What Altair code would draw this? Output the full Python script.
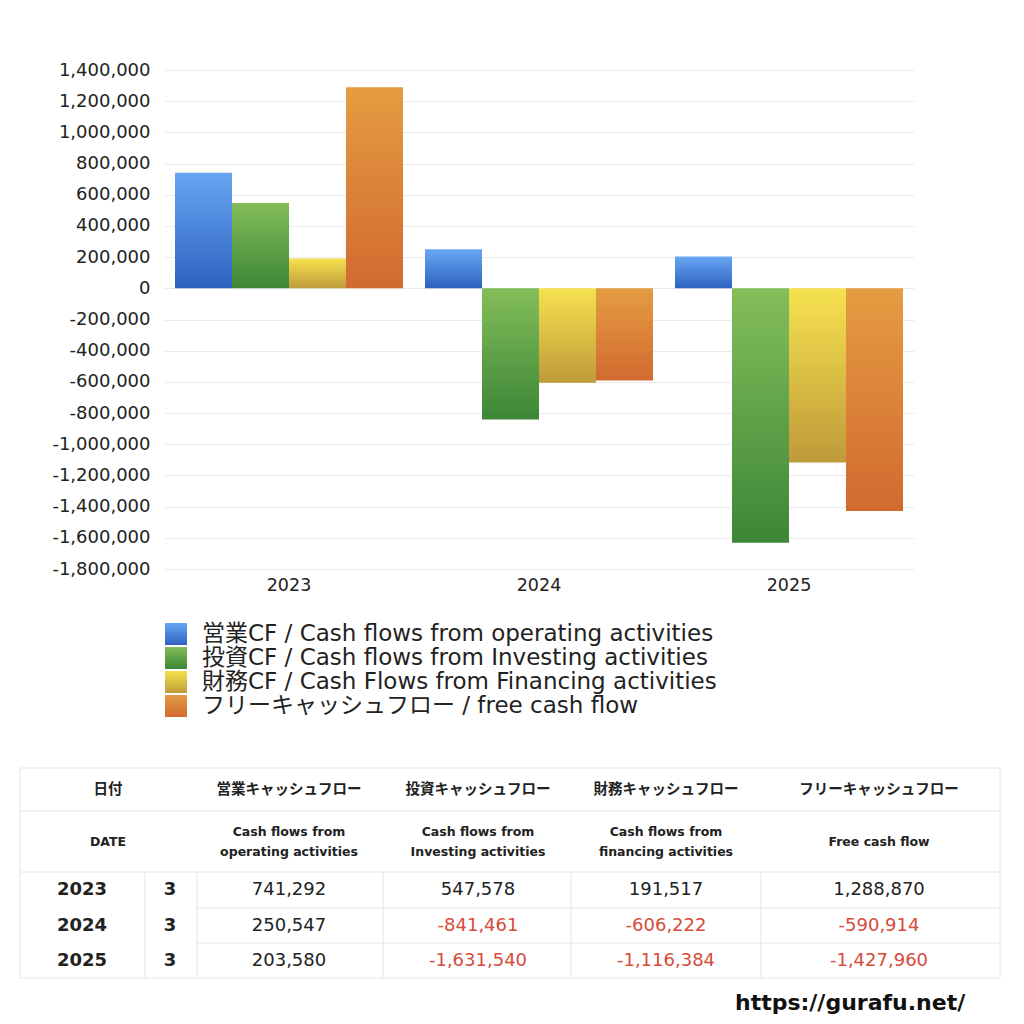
import altair as alt
import pandas as pd

# ---------------- data ----------------
YEARS = ["2023", "2024", "2025"]
MONTHS = ["3", "3", "3"]
KEYS = ["op", "inv", "fin", "free"]
SERIES_LABELS = [
    "営業CF / Cash flows from operating activities",
    "投資CF / Cash flows from Investing activities",
    "財務CF / Cash Flows from Financing activities",
    "フリーキャッシュフロー / free cash flow",
]
OPERATING = [741292, 250547, 203580]
INVESTING = [547578, -841461, -1631540]
FINANCING = [191517, -606222, -1116384]
FREE = [1288870, -590914, -1427960]
HEAD_JA = ["営業キャッシュフロー", "投資キャッシュフロー", "財務キャッシュフロー", "フリーキャッシュフロー"]
HEAD_EN = [
    ["Cash flows from", "operating activities"],
    ["Cash flows from", "Investing activities"],
    ["Cash flows from", "financing activities"],
    ["Free cash flow"],
]
DATE_JA = "日付"
DATE_EN = "DATE"
URL = "https://gurafu.net/"
Y_TICKS = list(range(-1800000, 1400001, 200000))

# ---------------- style / layout ----------------
FONT = "DejaVu Sans, Noto Sans CJK JP"
GRADS = [
    ("#68a6f2", "#2d62c0"),
    ("#84be5a", "#3d8637"),
    ("#f6e24f", "#bf9a3a"),
    ("#e59c41", "#d26a30"),
]
OX, OY = 164, 70          # page position of plot origin
W, H = 750, 499
RED = "#d64b3a"
INK = "#222222"
LINE = "#e4e4e4"

COL_CENTERS = [289, 478, 666, 879]
YEAR_X, MONTH_X, DATE_X = 82, 170, 108
ROW_Y = [890, 926, 961]
LEG_Y = [634, 658, 682, 706]


def grad(i):
    top, bot = GRADS[i]
    return alt.Gradient(
        gradient="linear",
        stops=[alt.GradientStop(color=top, offset=0), alt.GradientStop(color=bot, offset=1)],
        x1=0, x2=0, y1=0, y2=1,
    )


def gx(x):
    return x - OX


def gy(y):
    return y - OY


series_values = [OPERATING, INVESTING, FINANCING, FREE]
bars_df = pd.DataFrame(
    [{"year": YEARS[j], "key": KEYS[i], "value": series_values[i][j]}
     for i in range(4) for j in range(3)]
)

xscale = alt.Scale(domain=YEARS, paddingInner=0.088, paddingOuter=0.044)
yscale = alt.Scale(domain=[-1800000, 1400000], nice=False, zero=False)
offscale = alt.Scale(domain=KEYS, paddingInner=0, paddingOuter=0)
xaxis = alt.Axis(title=None, labelAngle=0, labelFontSize=17.5, labelColor=INK, ticks=False,
                 domain=False, labelPadding=7, grid=False, labelFont=FONT)
yaxis = alt.Axis(title=None, values=Y_TICKS,
                 labelExpr="replace(format(datum.value, ',d'), '\u2212', '-')",
                 labelFontSize=18, labelColor=INK,
                 ticks=False, domain=False, labelPadding=14, gridColor="#ebebeb", labelFont=FONT)

bar_layers = []
for i, k in enumerate(KEYS):
    bar_layers.append(
        alt.Chart(bars_df)
        .transform_filter(alt.datum.key == k)
        .mark_bar(color=grad(i))
        .encode(
            x=alt.X("year:N", scale=xscale, axis=xaxis),
            xOffset=alt.XOffset("key:N", scale=offscale),
            y=alt.Y("value:Q", scale=yscale, axis=yaxis),
        )
    )
bars = alt.layer(*bar_layers)

# ---------------- legend ----------------
leg_df = pd.DataFrame({"label": SERIES_LABELS, "px": [gx(202)] * 4, "py": [gy(v) for v in LEG_Y]})
legend_text = alt.Chart(leg_df).mark_text(align="left", baseline="middle", fontSize=23,
                                          color=INK, font=FONT).encode(
    x=alt.X("px:Q", scale=None, axis=None),
    y=alt.Y("py:Q", scale=None, axis=None),
    text="label:N",
)
swatches = []
one = pd.DataFrame({"k": [0]})
for i in range(4):
    swatches.append(
        alt.Chart(one).mark_rect(color=grad(i)).encode(
            x=alt.value(gx(165)), x2=alt.value(gx(187)),
            y=alt.value(gy(LEG_Y[i] - 11)), y2=alt.value(gy(LEG_Y[i] + 11)),
        )
    )

# ---------------- table ----------------
def fmt(v):
    return f"{v:,}"

lines = []
def hline(y, x1, x2):
    lines.append({"x": gx(x1), "x2": gx(x2), "y": gy(y), "y2": gy(y)})
def vline(x, y1, y2):
    lines.append({"x": gx(x), "x2": gx(x), "y": gy(y1), "y2": gy(y2)})

for y in [768, 811, 872, 978]:
    hline(y, 20, 1000)
for y in [908, 943]:
    hline(y, 197, 1000)
for x in [145, 197, 383, 571, 761]:
    vline(x, 872, 978)
vline(20, 768, 978)
vline(1000, 768, 978)
lines_df = pd.DataFrame(lines)
table_lines = alt.Chart(lines_df).mark_rule(color=LINE, strokeWidth=1).encode(
    x=alt.X("x:Q", scale=None, axis=None), x2="x2:Q",
    y=alt.Y("y:Q", scale=None, axis=None), y2="y2:Q",
)

bold_cells = [{"t": DATE_JA, "px": gx(DATE_X), "py": gy(790), "s": 14.5, "c": INK}]
for j, h in enumerate(HEAD_JA):
    bold_cells.append({"t": h, "px": gx(COL_CENTERS[j]), "py": gy(790), "s": 14.5, "c": INK})
for r in range(3):
    bold_cells.append({"t": YEARS[r], "px": gx(YEAR_X), "py": gy(ROW_Y[r]), "s": 18, "c": INK})
    bold_cells.append({"t": MONTHS[r], "px": gx(MONTH_X), "py": gy(ROW_Y[r]), "s": 18, "c": INK})
bold_cells.append({"t": DATE_EN, "px": gx(DATE_X), "py": gy(842), "s": 12.5, "c": INK})
for j, lines_en in enumerate(HEAD_EN):
    if len(lines_en) == 1:
        bold_cells.append({"t": lines_en[0], "px": gx(COL_CENTERS[j]), "py": gy(842), "s": 12.5, "c": INK})
    else:
        bold_cells.append({"t": lines_en[0], "px": gx(COL_CENTERS[j]), "py": gy(832), "s": 12.5, "c": INK})
        bold_cells.append({"t": lines_en[1], "px": gx(COL_CENTERS[j]), "py": gy(852), "s": 12.5, "c": INK})

norm_cells = []
for r in range(3):
    for j in range(4):
        v = series_values[j][r]
        norm_cells.append({"t": fmt(v), "px": gx(COL_CENTERS[j]), "py": gy(ROW_Y[r]), "s": 18,
                           "c": RED if v < 0 else INK})


def text_layer(cells, weight):
    return alt.Chart(pd.DataFrame(cells)).mark_text(align="center", baseline="middle",
                                                   font=FONT, fontWeight=weight).encode(
        x=alt.X("px:Q", scale=None, axis=None),
        y=alt.Y("py:Q", scale=None, axis=None),
        text="t:N",
        size=alt.Size("s:Q", scale=None, legend=None),
        color=alt.Color("c:N", scale=None, legend=None),
    )

t_bold = text_layer(bold_cells, "bold")
t_norm = text_layer(norm_cells, "normal")

url_df = pd.DataFrame({"t": [URL], "px": [gx(735)], "py": [gy(1003)]})
url_text = alt.Chart(url_df).mark_text(align="left", baseline="middle", fontSize=22,
                                       fontWeight="bold", color="#111111", font=FONT).encode(
    x=alt.X("px:Q", scale=None, axis=None),
    y=alt.Y("py:Q", scale=None, axis=None),
    text="t:N",
)

chart = alt.layer(
    bars, table_lines, t_bold, t_norm, legend_text, *swatches, url_text
).properties(
    width=W, height=H,
    padding={"left": OX - 8, "top": OY - 8, "right": 1016 - OX - W, "bottom": 1016 - OY - H},
    autosize=alt.AutoSizeParams(type="none"),
    background="white",
).configure(font=FONT).configure_view(stroke=None)

chart.save("out.html", embed_options={"renderer": "svg", "actions": False})
